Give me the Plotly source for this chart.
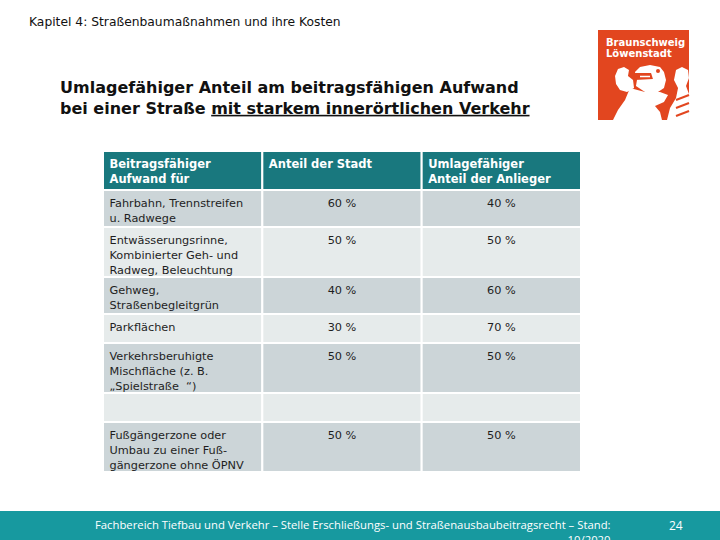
import plotly.graph_objects as go

W, H = 720, 540

# ---- data ----
header_labels = ["<b>Beitragsfähiger<br>Aufwand für</b>", "<b>Anteil der Stadt</b>",
                 "<b>Umlagefähiger<br>Anteil der Anlieger</b>"]
categories = [
    "Fahrbahn, Trennstreifen<br>u. Radwege",
    "Entwässerungsrinne,<br>Kombinierter Geh- und<br>Radweg, Beleuchtung",
    "Gehweg,<br>Straßenbegleitgrün",
    "Parkflächen",
    "Verkehrsberuhigte<br>Mischfläche (z. B.<br>„Spielstraße  “)",
    "",
    "Fußgängerzone oder<br>Umbau zu einer Fuß-<br>gängerzone ohne ÖPNV",
]
anteil_stadt = ["60 %", "50 %", "40 %", "30 %", "50 %", "", "50 %"]
anteil_anlieger = ["40 %", "50 %", "60 %", "70 %", "50 %", "", "50 %"]

# ---- layout helpers (sizes in px, derived from line counts) ----
LINE_HEIGHT = {1: 29, 2: 37, 3: 50}
HEADER_H = 39

def n_lines(t):
    return t.count("<br>") + 1

row_heights = [HEADER_H] + [LINE_HEIGHT[n_lines(c)] for c in categories]
row_tops = []
acc = 0
for h in row_heights:
    row_tops.append(acc)
    acc += h
total_h = acc
row_centers = [t + h / 2 for t, h in zip(row_tops, row_heights)]

HEADER_COLOR = "#19787e"
DARK_ROW = "#ccd5d8"
LIGHT_ROW = "#e6ebeb"
fills = [HEADER_COLOR] + [DARK_ROW if i % 2 == 0 else LIGHT_ROW for i in range(len(categories))]

TABLE_LEFT, TABLE_RIGHT, TABLE_TOP = 103, 581, 151
col_px = (TABLE_RIGHT - TABLE_LEFT) / 3

def px(x):
    return x / W

def py(y):
    return 1 - y / H

fig = go.Figure()

# cell backgrounds as horizontal bars (one trace per column)
for c in range(3):
    fig.add_trace(go.Bar(
        orientation="h", y=row_centers, x=[1] * len(row_heights), base=[c] * len(row_heights),
        width=row_heights, marker=dict(color=fills, line=dict(color="white", width=2)),
        hoverinfo="skip", showlegend=False,
    ))

pad = 6.5 / col_px
body_font = dict(family="DejaVu Sans", size=11.3, color="#1e1e1e")
head_font = dict(family="DejaVu Sans", size=11.5, color="white")

# header texts
fig.add_trace(go.Scatter(
    x=[c + pad for c in range(3)], y=[row_tops[0] + 8] * 3, text=header_labels,
    mode="text", textposition="bottom right", textfont=head_font,
    hoverinfo="skip", showlegend=False,
))
# first column texts
fig.add_trace(go.Scatter(
    x=[pad] * len(categories), y=[t + 9 for t in row_tops[1:]], text=categories,
    mode="text", textposition="bottom right", textfont=body_font,
    hoverinfo="skip", showlegend=False,
))
# value columns
for c, vals in ((1, anteil_stadt), (2, anteil_anlieger)):
    fig.add_trace(go.Scatter(
        x=[c + 0.5] * len(vals), y=[t + 9 for t in row_tops[1:]], text=vals,
        mode="text", textposition="bottom center", textfont=body_font,
        hoverinfo="skip", showlegend=False,
    ))

shapes = []
shapes.append(dict(type="rect", xref="paper", yref="paper", x0=0, x1=1, y0=0, y1=py(511),
                   fillcolor="#17999f", line=dict(width=0), layer="below"))
LOGO_RED = "#e2461f"
shapes.append(dict(type="rect", xref="paper", yref="paper", x0=px(598), x1=px(689),
                   y0=py(120), y1=py(30), fillcolor=LOGO_RED, line=dict(width=0)))

def path(points):
    return "M " + " L ".join(f"{px(x):.4f},{py(y):.4f}" for x, y in points) + " Z"

white_polys = [
    # raised paw
    [(615, 76), (618, 69), (624, 67), (629, 70), (628, 76), (633, 80), (634, 88),
     (627, 92), (620, 90), (616, 84)],
    # head
    [(635, 72), (640, 67), (650, 65), (660, 67), (664, 72), (666, 80), (664, 88),
     (658, 92), (645, 92), (636, 86), (637, 80)],
    # body
    [(630, 88), (645, 92), (660, 92), (668, 95), (664, 102), (655, 106), (660, 112),
     (662, 120), (613, 120), (618, 110), (625, 100)],
    # right part
    [(676, 70), (682, 67), (688, 70), (689, 78), (686, 86), (689, 94), (689, 120),
     (667, 120), (670, 108), (676, 98), (678, 88), (674, 80)],
]
for pts in white_polys:
    shapes.append(dict(type="path", xref="paper", yref="paper", path=path(pts),
                       fillcolor="white", line=dict(width=0)))
# mouth and eye
shapes.append(dict(type="path", xref="paper", yref="paper",
                   path=path([(634, 73), (651, 73), (653, 79), (635, 80)]),
                   fillcolor=LOGO_RED, line=dict(width=0)))
shapes.append(dict(type="line", xref="paper", yref="paper", x0=px(640), x1=px(650),
                   y0=py(76.5), y1=py(76.5), line=dict(color="white", width=1.5)))
shapes.append(dict(type="circle", xref="paper", yref="paper", x0=px(656), x1=px(660),
                   y0=py(73), y1=py(69), fillcolor=LOGO_RED, line=dict(width=0)))
for yy in (100, 108, 116):
    shapes.append(dict(type="line", xref="paper", yref="paper", x0=px(676), x1=px(689),
                       y0=py(yy), y1=py(yy - 5), line=dict(color=LOGO_RED, width=2)))

P = dict(xref="paper", yref="paper", showarrow=False)
annotations = [
    dict(text="Kapitel 4: Straßenbaumaßnahmen und ihre Kosten", x=px(27), y=py(22),
         xanchor="left", yanchor="middle",
         font=dict(family="DejaVu Sans", size=12.3, color="#111111"), **P),
    dict(text="<b>Umlagefähiger Anteil am beitragsfähigen Aufwand<br>bei einer Straße "
              "<span style='text-decoration:underline'>mit starkem innerörtlichen Verkehr</span></b>",
         x=px(58), y=py(76), xanchor="left", yanchor="top", align="left",
         font=dict(family="DejaVu Sans", size=16, color="#111111"), **P),
    dict(text="<b>Braunschweig</b>", x=px(604), y=py(43), xanchor="left", yanchor="middle",
         font=dict(family="DejaVu Sans", size=10, color="white"), **P),
    dict(text="<b>Löwenstadt</b>", x=px(604), y=py(54), xanchor="left", yanchor="middle",
         font=dict(family="DejaVu Sans", size=10, color="white"), **P),
    dict(text="Fachbereich Tiefbau und Verkehr – Stelle Erschließungs- und Straßenausbaubeitragsrecht – Stand:<br>10/2020",
         x=px(613), y=py(515), xanchor="right", yanchor="top", align="right",
         font=dict(family="Open Sans", size=11.3, color="white"), **P),
    dict(text="24", x=px(676), y=py(525), xanchor="center", yanchor="middle",
         font=dict(family="Open Sans", size=12, color="white"), **P),
]

fig.update_layout(
    width=W, height=H,
    margin=dict(l=0, r=0, t=0, b=0),
    paper_bgcolor="white",
    plot_bgcolor="white",
    barmode="overlay",
    xaxis=dict(range=[0, 3], domain=[px(TABLE_LEFT), px(TABLE_RIGHT)], visible=False,
               fixedrange=True),
    yaxis=dict(range=[total_h, 0], domain=[py(TABLE_TOP + total_h), py(TABLE_TOP)],
               visible=False, fixedrange=True),
    shapes=shapes,
    annotations=annotations,
)

fig.write_html("out.html", config={"displayModeBar": False},
               post_script="document.body.style.margin='0';")
